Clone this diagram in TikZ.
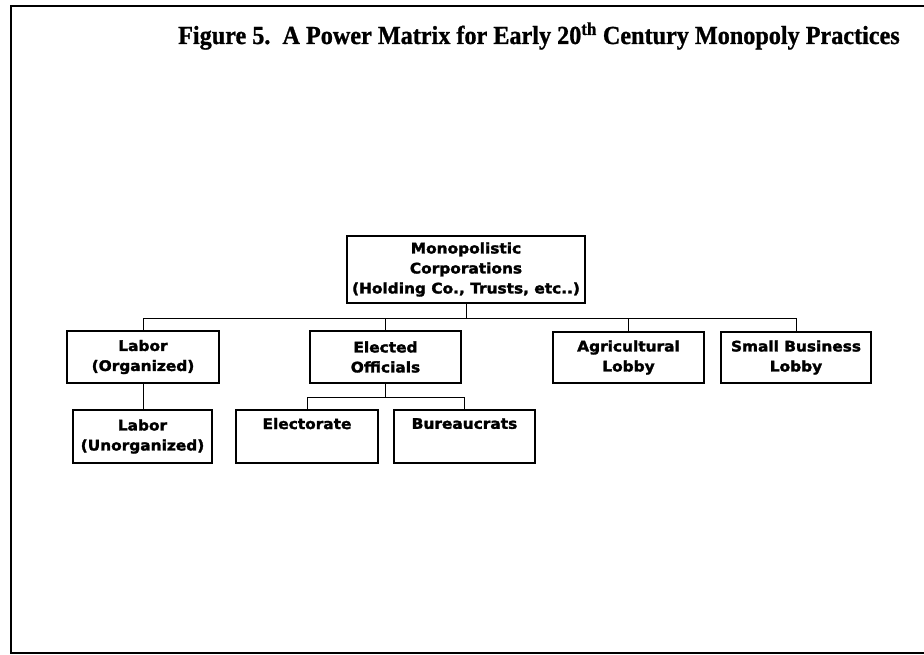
\documentclass[tikz,border=0pt]{standalone}
\usepackage{fontspec}
\setmainfont{Liberation Serif}
\newfontfamily\titlefont[FakeStretch=0.93,FakeBold=1]{Liberation Serif Bold}
\newfontfamily\boxfont[FakeStretch=1.06,FakeBold=2]{DejaVu Sans Bold}
\begin{document}
\begin{tikzpicture}[x=1pt,y=-1pt,
  unit/.style={draw, line width=1.6pt, rectangle, align=center, inner sep=0pt,
    font=\boxfont\fontsize{14.5}{20}\selectfont},
  link/.style={line width=0.8pt},
  frame/.style={line width=2.6pt}]
\useasboundingbox (0,0) rectangle (924,655);

% outer frame (open on the right)
\draw[frame] (930,6) -- (11,6) -- (11,653) -- (930,653);

% title
\node[anchor=base west, inner sep=0pt, font=\titlefont\fontsize{26}{30}\selectfont]
  (title) at (178,44) {Figure 5.\ \ A Power Matrix for Early 20\textsuperscript{th} Century Monopoly Practices};

% boxes
\node[unit, minimum width=238, minimum height=67] (mono) at (466,269.5)
  {Monopolistic\\Corporations\\(Holding Co., Trusts, etc..)};
\node[unit, minimum width=152, minimum height=52] (labo) at (143,357) {Labor\\(Organized)};
\node[unit, minimum width=151, minimum height=52] (elec) at (385.5,357) {Elected\\Officials};
\node[unit, minimum width=151, minimum height=51] (agri) at (628.5,357.5) {Agricultural\\Lobby};
\node[unit, minimum width=150, minimum height=51] (smal) at (796,357.5) {Small Business\\Lobby};
\node[unit, minimum width=139, minimum height=53] (labu) at (142.5,436.5) {Labor\\(Unorganized)};
\node[unit, minimum width=142, minimum height=53] (vote) at (307,436.5) {Electorate\\\strut};
\node[unit, minimum width=141, minimum height=53] (bure) at (464.5,436.5) {Bureaucrats\\\strut};

% connectors
\coordinate (bus) at (466,318);
\coordinate (bus2) at (385.5,397);
\draw[link] (mono.south) -- (bus);
\draw[link] (labo.north) -- (labo.north |- bus) -- (smal.north |- bus) -- (smal.north);
\draw[link] (elec.north) -- (elec.north |- bus);
\draw[link] (agri.north) -- (agri.north |- bus);
\draw[link] (elec.south) -- (bus2);
\draw[link] (vote.north) -- (vote.north |- bus2) -- (bure.north |- bus2) -- (bure.north);
\draw[link] (labo.south) -- (labo.south |- labu.north);
\end{tikzpicture}
\end{document}
